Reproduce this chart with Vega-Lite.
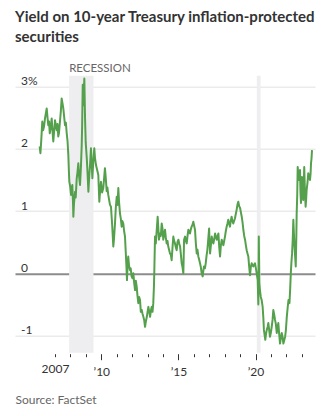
{
  "$schema": "https://vega.github.io/schema/vega-lite/v6.json",
  "width": 300,
  "height": 277,
  "autosize": {"type": "none"},
  "padding": {"left": 15, "top": 75.7, "right": 20, "bottom": 63.3},
  "background": "white",
  "title": {
    "text": ["Yield on 10-year Treasury inflation-protected", "securities"],
    "anchor": "start",
    "frame": "group",
    "font": "Lato",
    "fontSize": 15,
    "fontWeight": "bold",
    "color": "#333333",
    "lineHeight": 20,
    "offset": 18
  },
  "config": {
    "view": {"stroke": null},
    "font": "Lato",
    "axisX": {"labelOverlap": false, "labelFlush": false, "labelBound": false}
  },
  "datasets": {
    "recessions": [
      {"date": "2007-12-01", "end": "2009-06-30", "label": "RECESSION"},
      {"date": "2020-02-01", "end": "2020-04-30", "label": ""}
    ],
    "tips": [
      {"date": "2006-01-02", "value": 2.04},
      {"date": "2006-01-20", "value": 1.93},
      {"date": "2006-02-10", "value": 2.15},
      {"date": "2006-03-05", "value": 2.44},
      {"date": "2006-03-25", "value": 2.30},
      {"date": "2006-04-15", "value": 2.36},
      {"date": "2006-05-10", "value": 2.50},
      {"date": "2006-06-18", "value": 2.65},
      {"date": "2006-07-05", "value": 2.52},
      {"date": "2006-07-25", "value": 2.38},
      {"date": "2006-08-12", "value": 2.44},
      {"date": "2006-08-30", "value": 2.25},
      {"date": "2006-09-20", "value": 2.35},
      {"date": "2006-10-14", "value": 2.49},
      {"date": "2006-11-01", "value": 2.30},
      {"date": "2006-11-21", "value": 2.12},
      {"date": "2006-12-10", "value": 2.28},
      {"date": "2007-01-01", "value": 2.46},
      {"date": "2007-01-20", "value": 2.38},
      {"date": "2007-02-10", "value": 2.30},
      {"date": "2007-03-01", "value": 2.40},
      {"date": "2007-03-18", "value": 2.20},
      {"date": "2007-04-05", "value": 2.26},
      {"date": "2007-04-28", "value": 2.44},
      {"date": "2007-05-18", "value": 2.60},
      {"date": "2007-06-07", "value": 2.81},
      {"date": "2007-06-25", "value": 2.74},
      {"date": "2007-07-16", "value": 2.65},
      {"date": "2007-08-05", "value": 2.52},
      {"date": "2007-08-25", "value": 2.38},
      {"date": "2007-09-15", "value": 2.42},
      {"date": "2007-10-05", "value": 2.25},
      {"date": "2007-10-25", "value": 2.12},
      {"date": "2007-11-12", "value": 1.90},
      {"date": "2007-11-25", "value": 1.65},
      {"date": "2007-12-06", "value": 1.47},
      {"date": "2007-12-25", "value": 1.40},
      {"date": "2008-01-15", "value": 1.26},
      {"date": "2008-02-01", "value": 1.36},
      {"date": "2008-02-15", "value": 1.42},
      {"date": "2008-03-01", "value": 1.15},
      {"date": "2008-03-10", "value": 0.91},
      {"date": "2008-03-25", "value": 1.12},
      {"date": "2008-04-19", "value": 1.31},
      {"date": "2008-05-05", "value": 1.22},
      {"date": "2008-05-29", "value": 1.53},
      {"date": "2008-06-15", "value": 1.62},
      {"date": "2008-07-06", "value": 1.77},
      {"date": "2008-07-25", "value": 1.55},
      {"date": "2008-08-15", "value": 1.42},
      {"date": "2008-09-05", "value": 1.70},
      {"date": "2008-09-24", "value": 2.06},
      {"date": "2008-10-05", "value": 2.40},
      {"date": "2008-10-18", "value": 3.03},
      {"date": "2008-11-01", "value": 2.70},
      {"date": "2008-11-25", "value": 3.13},
      {"date": "2008-12-12", "value": 2.49},
      {"date": "2008-12-28", "value": 2.10},
      {"date": "2009-01-22", "value": 1.85},
      {"date": "2009-02-10", "value": 1.60},
      {"date": "2009-03-01", "value": 1.31},
      {"date": "2009-03-23", "value": 1.58},
      {"date": "2009-04-10", "value": 1.75},
      {"date": "2009-05-01", "value": 2.01},
      {"date": "2009-05-15", "value": 1.80},
      {"date": "2009-06-03", "value": 1.53},
      {"date": "2009-06-25", "value": 1.80},
      {"date": "2009-07-19", "value": 2.01},
      {"date": "2009-08-05", "value": 1.85},
      {"date": "2009-08-28", "value": 1.74},
      {"date": "2009-09-25", "value": 1.66},
      {"date": "2009-10-22", "value": 1.58},
      {"date": "2009-11-15", "value": 1.15},
      {"date": "2009-12-01", "value": 1.30},
      {"date": "2009-12-24", "value": 1.47},
      {"date": "2010-01-20", "value": 1.30},
      {"date": "2010-02-17", "value": 1.37},
      {"date": "2010-03-05", "value": 1.50},
      {"date": "2010-03-28", "value": 1.69},
      {"date": "2010-04-15", "value": 1.55},
      {"date": "2010-05-08", "value": 1.32},
      {"date": "2010-05-25", "value": 1.38},
      {"date": "2010-06-15", "value": 1.26},
      {"date": "2010-07-05", "value": 1.18},
      {"date": "2010-07-26", "value": 1.10},
      {"date": "2010-08-18", "value": 1.07},
      {"date": "2010-09-15", "value": 0.78},
      {"date": "2010-10-12", "value": 0.43},
      {"date": "2010-10-28", "value": 0.55},
      {"date": "2010-11-21", "value": 0.80},
      {"date": "2010-12-10", "value": 1.05},
      {"date": "2011-01-01", "value": 1.23},
      {"date": "2011-01-20", "value": 1.10},
      {"date": "2011-02-08", "value": 1.37},
      {"date": "2011-02-25", "value": 1.15},
      {"date": "2011-03-20", "value": 0.96},
      {"date": "2011-04-08", "value": 0.88},
      {"date": "2011-04-28", "value": 0.75},
      {"date": "2011-05-15", "value": 0.84},
      {"date": "2011-06-06", "value": 0.80},
      {"date": "2011-06-25", "value": 0.68},
      {"date": "2011-07-16", "value": 0.59},
      {"date": "2011-08-08", "value": 0.27},
      {"date": "2011-08-20", "value": 0.10},
      {"date": "2011-09-01", "value": -0.11},
      {"date": "2011-09-15", "value": 0.12},
      {"date": "2011-10-01", "value": 0.27},
      {"date": "2011-10-20", "value": 0.12},
      {"date": "2011-11-10", "value": 0.05},
      {"date": "2011-11-28", "value": 0.08},
      {"date": "2011-12-20", "value": -0.05},
      {"date": "2012-01-10", "value": -0.08},
      {"date": "2012-01-30", "value": 0.00},
      {"date": "2012-02-18", "value": -0.15},
      {"date": "2012-03-10", "value": -0.27},
      {"date": "2012-03-28", "value": -0.12},
      {"date": "2012-04-19", "value": -0.22},
      {"date": "2012-05-05", "value": -0.35},
      {"date": "2012-05-27", "value": -0.48},
      {"date": "2012-06-15", "value": -0.38},
      {"date": "2012-07-06", "value": -0.43},
      {"date": "2012-07-25", "value": -0.62},
      {"date": "2012-08-15", "value": -0.59},
      {"date": "2012-09-03", "value": -0.65},
      {"date": "2012-09-23", "value": -0.70},
      {"date": "2012-10-12", "value": -0.75},
      {"date": "2012-11-02", "value": -0.86},
      {"date": "2012-11-20", "value": -0.78},
      {"date": "2012-12-14", "value": -0.70},
      {"date": "2013-01-01", "value": -0.62},
      {"date": "2013-01-20", "value": -0.54},
      {"date": "2013-02-10", "value": -0.62},
      {"date": "2013-03-01", "value": -0.70},
      {"date": "2013-03-20", "value": -0.60},
      {"date": "2013-04-08", "value": -0.54},
      {"date": "2013-04-28", "value": -0.62},
      {"date": "2013-05-16", "value": -0.48},
      {"date": "2013-06-01", "value": -0.20},
      {"date": "2013-06-10", "value": 0.05},
      {"date": "2013-06-26", "value": 0.59},
      {"date": "2013-07-15", "value": 0.48},
      {"date": "2013-08-06", "value": 0.70},
      {"date": "2013-08-28", "value": 0.91},
      {"date": "2013-09-10", "value": 0.75},
      {"date": "2013-09-28", "value": 0.54},
      {"date": "2013-10-22", "value": 0.64},
      {"date": "2013-11-10", "value": 0.60},
      {"date": "2013-12-01", "value": 0.80},
      {"date": "2013-12-20", "value": 0.72},
      {"date": "2014-01-08", "value": 0.54},
      {"date": "2014-01-28", "value": 0.62},
      {"date": "2014-02-18", "value": 0.70},
      {"date": "2014-03-08", "value": 0.58},
      {"date": "2014-03-29", "value": 0.48},
      {"date": "2014-04-18", "value": 0.52},
      {"date": "2014-05-06", "value": 0.43},
      {"date": "2014-05-25", "value": 0.38},
      {"date": "2014-06-15", "value": 0.32},
      {"date": "2014-07-05", "value": 0.30},
      {"date": "2014-07-25", "value": 0.21},
      {"date": "2014-08-15", "value": 0.42},
      {"date": "2014-09-03", "value": 0.59},
      {"date": "2014-09-22", "value": 0.52},
      {"date": "2014-10-12", "value": 0.48},
      {"date": "2014-11-01", "value": 0.42},
      {"date": "2014-11-21", "value": 0.37},
      {"date": "2014-12-10", "value": 0.50},
      {"date": "2015-01-01", "value": 0.54},
      {"date": "2015-01-20", "value": 0.48},
      {"date": "2015-02-10", "value": 0.43},
      {"date": "2015-03-01", "value": 0.30},
      {"date": "2015-03-20", "value": 0.16},
      {"date": "2015-04-08", "value": 0.10},
      {"date": "2015-04-28", "value": 0.00},
      {"date": "2015-05-15", "value": 0.54},
      {"date": "2015-06-08", "value": 0.59},
      {"date": "2015-06-25", "value": 0.52},
      {"date": "2015-07-17", "value": 0.48},
      {"date": "2015-08-05", "value": 0.60},
      {"date": "2015-08-25", "value": 0.70},
      {"date": "2015-09-12", "value": 0.66},
      {"date": "2015-10-02", "value": 0.64},
      {"date": "2015-10-20", "value": 0.70},
      {"date": "2015-11-10", "value": 0.75},
      {"date": "2015-12-01", "value": 0.78},
      {"date": "2015-12-20", "value": 0.83},
      {"date": "2016-01-10", "value": 0.76},
      {"date": "2016-01-29", "value": 0.70},
      {"date": "2016-02-18", "value": 0.48},
      {"date": "2016-03-10", "value": 0.32},
      {"date": "2016-03-28", "value": 0.38},
      {"date": "2016-04-17", "value": 0.27},
      {"date": "2016-05-06", "value": 0.22},
      {"date": "2016-05-27", "value": 0.16},
      {"date": "2016-06-15", "value": 0.10},
      {"date": "2016-07-05", "value": 0.00},
      {"date": "2016-07-29", "value": -0.05},
      {"date": "2016-08-15", "value": 0.05},
      {"date": "2016-08-29", "value": 0.11},
      {"date": "2016-09-20", "value": 0.08},
      {"date": "2016-10-09", "value": 0.16},
      {"date": "2016-10-28", "value": 0.28},
      {"date": "2016-11-16", "value": 0.37},
      {"date": "2016-12-05", "value": 0.52},
      {"date": "2016-12-28", "value": 0.72},
      {"date": "2017-01-10", "value": 0.48},
      {"date": "2017-01-20", "value": 0.32},
      {"date": "2017-02-08", "value": 0.45},
      {"date": "2017-03-01", "value": 0.59},
      {"date": "2017-03-20", "value": 0.52},
      {"date": "2017-04-09", "value": 0.48},
      {"date": "2017-04-28", "value": 0.55},
      {"date": "2017-05-19", "value": 0.64},
      {"date": "2017-06-08", "value": 0.58},
      {"date": "2017-06-28", "value": 0.54},
      {"date": "2017-07-18", "value": 0.60},
      {"date": "2017-08-05", "value": 0.64},
      {"date": "2017-08-25", "value": 0.42},
      {"date": "2017-09-13", "value": 0.27},
      {"date": "2017-10-03", "value": 0.45},
      {"date": "2017-10-23", "value": 0.54},
      {"date": "2017-11-10", "value": 0.50},
      {"date": "2017-11-30", "value": 0.45},
      {"date": "2017-12-20", "value": 0.52},
      {"date": "2018-01-08", "value": 0.59},
      {"date": "2018-01-28", "value": 0.68},
      {"date": "2018-02-17", "value": 0.75},
      {"date": "2018-03-08", "value": 0.80},
      {"date": "2018-03-27", "value": 0.86},
      {"date": "2018-04-15", "value": 0.80},
      {"date": "2018-05-06", "value": 0.75},
      {"date": "2018-05-25", "value": 0.84},
      {"date": "2018-06-14", "value": 0.91},
      {"date": "2018-07-03", "value": 0.84},
      {"date": "2018-07-23", "value": 0.80},
      {"date": "2018-08-12", "value": 0.84},
      {"date": "2018-09-01", "value": 0.88},
      {"date": "2018-09-20", "value": 0.95},
      {"date": "2018-10-11", "value": 1.02},
      {"date": "2018-10-30", "value": 1.10},
      {"date": "2018-11-19", "value": 1.15},
      {"date": "2018-12-10", "value": 1.08},
      {"date": "2019-01-01", "value": 1.05},
      {"date": "2019-01-20", "value": 0.98},
      {"date": "2019-02-09", "value": 0.91},
      {"date": "2019-02-28", "value": 0.82},
      {"date": "2019-03-19", "value": 0.70},
      {"date": "2019-04-08", "value": 0.60},
      {"date": "2019-04-28", "value": 0.54},
      {"date": "2019-05-18", "value": 0.45},
      {"date": "2019-06-06", "value": 0.37},
      {"date": "2019-06-25", "value": 0.32},
      {"date": "2019-07-15", "value": 0.27},
      {"date": "2019-08-05", "value": 0.10},
      {"date": "2019-08-24", "value": -0.03},
      {"date": "2019-09-12", "value": 0.10},
      {"date": "2019-10-03", "value": 0.16},
      {"date": "2019-10-20", "value": 0.13},
      {"date": "2019-11-10", "value": 0.11},
      {"date": "2019-12-01", "value": 0.14},
      {"date": "2019-12-20", "value": 0.16},
      {"date": "2020-01-10", "value": 0.08},
      {"date": "2020-01-29", "value": 0.00},
      {"date": "2020-02-22", "value": -0.11},
      {"date": "2020-03-08", "value": -0.50},
      {"date": "2020-03-19", "value": 0.59},
      {"date": "2020-03-31", "value": -0.15},
      {"date": "2020-04-15", "value": -0.27},
      {"date": "2020-05-05", "value": -0.38},
      {"date": "2020-05-26", "value": -0.43},
      {"date": "2020-06-18", "value": -0.54},
      {"date": "2020-07-05", "value": -0.72},
      {"date": "2020-07-18", "value": -0.91},
      {"date": "2020-08-05", "value": -1.00},
      {"date": "2020-08-20", "value": -1.07},
      {"date": "2020-09-05", "value": -0.98},
      {"date": "2020-09-24", "value": -0.91},
      {"date": "2020-10-15", "value": -0.86},
      {"date": "2020-10-31", "value": -0.80},
      {"date": "2020-11-18", "value": -0.90},
      {"date": "2020-12-08", "value": -1.02},
      {"date": "2020-12-28", "value": -0.96},
      {"date": "2021-01-19", "value": -0.86},
      {"date": "2021-02-08", "value": -0.75},
      {"date": "2021-02-26", "value": -0.59},
      {"date": "2021-03-18", "value": -0.66},
      {"date": "2021-04-07", "value": -0.75},
      {"date": "2021-04-28", "value": -0.82},
      {"date": "2021-05-18", "value": -0.96},
      {"date": "2021-06-05", "value": -0.88},
      {"date": "2021-06-24", "value": -0.80},
      {"date": "2021-07-15", "value": -0.98},
      {"date": "2021-08-04", "value": -1.13},
      {"date": "2021-08-24", "value": -1.04},
      {"date": "2021-09-13", "value": -0.96},
      {"date": "2021-10-02", "value": -1.02},
      {"date": "2021-10-22", "value": -1.13},
      {"date": "2021-11-10", "value": -1.08},
      {"date": "2021-12-02", "value": -1.02},
      {"date": "2021-12-20", "value": -0.92},
      {"date": "2022-01-11", "value": -0.70},
      {"date": "2022-02-01", "value": -0.55},
      {"date": "2022-02-20", "value": -0.43},
      {"date": "2022-03-15", "value": -0.48},
      {"date": "2022-04-01", "value": -0.25},
      {"date": "2022-04-16", "value": 0.00},
      {"date": "2022-05-01", "value": 0.18},
      {"date": "2022-05-16", "value": 0.32},
      {"date": "2022-06-01", "value": 0.55},
      {"date": "2022-06-15", "value": 0.86},
      {"date": "2022-07-08", "value": 0.48},
      {"date": "2022-07-25", "value": 0.30},
      {"date": "2022-08-11", "value": 0.11},
      {"date": "2022-08-25", "value": 0.60},
      {"date": "2022-09-02", "value": 0.96},
      {"date": "2022-09-15", "value": 1.25},
      {"date": "2022-09-26", "value": 1.71},
      {"date": "2022-10-10", "value": 1.60},
      {"date": "2022-10-27", "value": 1.50},
      {"date": "2022-11-08", "value": 1.55},
      {"date": "2022-11-20", "value": 1.66},
      {"date": "2022-12-01", "value": 1.30},
      {"date": "2022-12-13", "value": 1.13},
      {"date": "2023-01-05", "value": 1.55},
      {"date": "2023-01-20", "value": 1.25},
      {"date": "2023-02-05", "value": 1.18},
      {"date": "2023-02-18", "value": 1.45},
      {"date": "2023-02-28", "value": 1.71},
      {"date": "2023-03-15", "value": 1.35},
      {"date": "2023-04-02", "value": 1.07},
      {"date": "2023-04-15", "value": 1.20},
      {"date": "2023-04-26", "value": 1.34},
      {"date": "2023-05-15", "value": 1.45},
      {"date": "2023-06-04", "value": 1.61},
      {"date": "2023-06-25", "value": 1.55},
      {"date": "2023-07-15", "value": 1.50},
      {"date": "2023-07-28", "value": 1.60},
      {"date": "2023-08-08", "value": 1.77},
      {"date": "2023-08-20", "value": 1.85},
      {"date": "2023-08-31", "value": 1.98}
    ]
  },
  "encoding": {
    "x": {
      "field": "date",
      "type": "temporal",
      "scale": {"domain": [{"year": 2004, "month": 5, "date": 28}, {"year": 2023, "month": 11, "date": 10}]},
      "axis": {
        "title": "Source: FactSet",
        "titleAnchor": "start",
        "titleAlign": "left",
        "titleBaseline": "top",
        "titleFont": "Lato",
        "titleFontSize": 12,
        "titleFontWeight": "normal",
        "titleColor": "#666666",
        "titlePadding": 17,
        "domain": false,
        "grid": false,
        "offset": 1,
        "values": [
          {"year": 2007, "month": 1, "date": 1}, {"year": 2008, "month": 1, "date": 1}, {"year": 2009, "month": 1, "date": 1},
          {"year": 2010, "month": 1, "date": 1}, {"year": 2011, "month": 1, "date": 1}, {"year": 2012, "month": 1, "date": 1},
          {"year": 2013, "month": 1, "date": 1}, {"year": 2014, "month": 1, "date": 1}, {"year": 2015, "month": 1, "date": 1},
          {"year": 2016, "month": 1, "date": 1}, {"year": 2017, "month": 1, "date": 1}, {"year": 2018, "month": 1, "date": 1},
          {"year": 2019, "month": 1, "date": 1}, {"year": 2020, "month": 1, "date": 1}, {"year": 2021, "month": 1, "date": 1},
          {"year": 2022, "month": 1, "date": 1}, {"year": 2023, "month": 1, "date": 1}
        ],
        "labelExpr": "year(datum.value) == 2007 ? '2007' : (year(datum.value) % 5 == 0 ? '\u2019' + substring('' + year(datum.value), 2, 4) : '')",
        "labelFont": "Lato",
        "labelFontSize": 12,
        "labelColor": "#333333",
        "labelPadding": 7,
        "labelOverlap": false,
        "labelFlush": false,
        "labelBound": false,
        "tickColor": "#333333",
        "tickWidth": 1,
        "tickSize": {"condition": {"test": "year(datum.value) % 5 == 0", "value": 6}, "value": 3}
      }
    }
  },
  "layer": [
    {
      "data": {"name": "recessions"},
      "mark": {"type": "rect", "color": "#eeeef0"},
      "encoding": {
        "x2": {"field": "end"}
      }
    },
    {
      "data": {"name": "recessions"},
      "mark": {"type": "text", "align": "left", "baseline": "alphabetic", "font": "Lato", "fontSize": 11.5, "color": "#666666"},
      "encoding": {
        "y": {"datum": 3.23, "type": "quantitative"},
        "text": {"field": "label"}
      }
    },
    {
      "data": {"name": "tips"},
      "mark": {"type": "line", "color": "#55a04c", "strokeWidth": 2, "strokeJoin": "round"},
      "encoding": {
        "y": {
          "field": "value",
          "type": "quantitative",
          "scale": {"domain": [-1.277, 3.177], "nice": false, "zero": false},
          "axis": {
            "title": null,
            "domain": false,
            "ticks": false,
            "values": [-1, 0, 1, 2, 3],
            "labelExpr": "datum.value == 3 ? '3%' : '' + datum.value",
            "labelAlign": "left",
            "labelBaseline": "alphabetic",
            "labelPadding": -5.5,
            "labelOffset": -2,
            "labelFont": "Lato",
            "labelFontSize": 12,
            "labelColor": "#333333",
            "grid": true,
            "gridColor": {"condition": {"test": "datum.value == 0", "value": "#8c8c8c"}, "value": "#ebebeb"},
            "gridWidth": {"condition": {"test": "datum.value == 0", "value": 2}, "value": 1.5}
          }
        }
      }
    }
  ]
}
